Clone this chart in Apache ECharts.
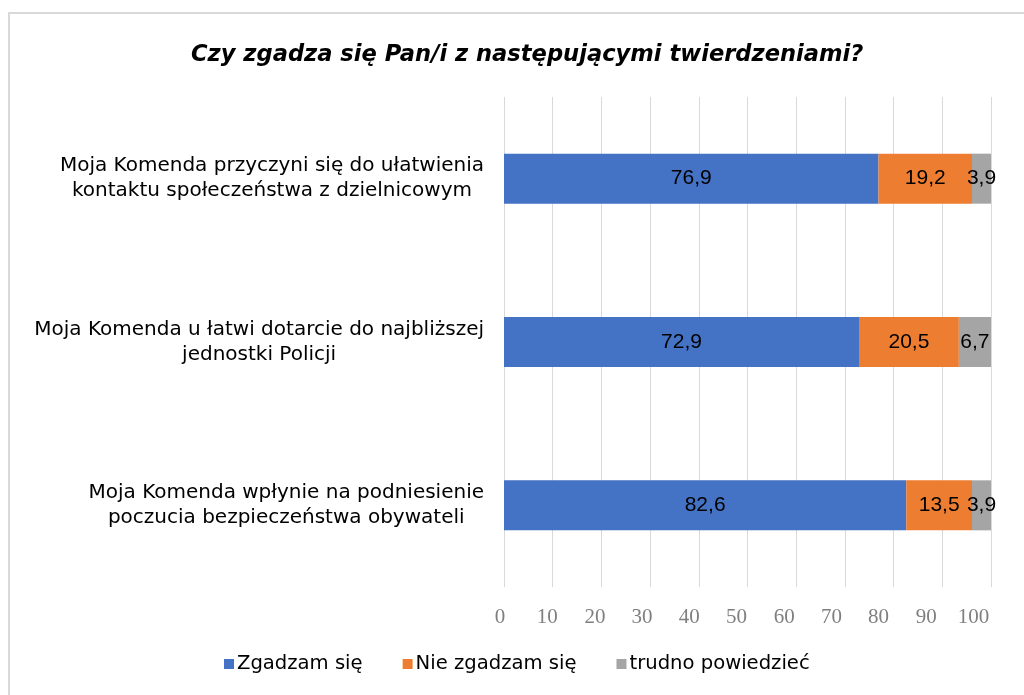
<!DOCTYPE html>
<html>
<head>
<meta charset="utf-8">
<script src="https://cdn.jsdelivr.net/npm/echarts@6/dist/echarts.min.js"></script>
<style>
  html, body { margin: 0; padding: 0; background: #fff; }
  #chart { width: 1024px; height: 695px; }
</style>
</head>
<body>
<div id="chart"></div>
<script>
var categories = [
  'Moja Komenda przyczyni się do ułatwienia\nkontaktu społeczeństwa z dzielnicowym',
  'Moja Komenda u łatwi dotarcie do najbliższej\njednostki Policji',
  'Moja Komenda wpłynie na podniesienie\npoczucia bezpieczeństwa obywateli'
];
var seriesNames = ['Zgadzam się', 'Nie zgadzam się', 'trudno powiedzieć'];
var agree = [76.9, 72.9, 82.6];
var disagree = [19.2, 20.5, 13.5];
var hardToSay = [3.9, 6.7, 3.9];
var colors = ['#4472C4', '#ED7D31', '#A5A5A5'];
var xTicks = [0, 10, 20, 30, 40, 50, 60, 70, 80, 90, 100];

var chart = echarts.init(document.getElementById('chart'));

// the tick labels in the original sit a little left of their gridlines
var tickRich = {};
xTicks.forEach(function (v) {
  var shift = 4 + 0.135 * v;
  tickRich['t' + v] = {
    fontFamily: 'Liberation Serif, Times New Roman, serif',
    fontSize: 21,
    color: '#7f7f7f',
    padding: [0, Math.round(shift * 2), 0, 0]
  };
});

function makeSeries(name, data, color) {
  return {
    name: name,
    type: 'bar',
    stack: 'total',
    data: data,
    barWidth: 50,
    itemStyle: { color: color },
    label: {
      show: true,
      position: 'inside',
      color: '#000',
      fontSize: 21,
      fontFamily: 'Liberation Sans, Arial, sans-serif',
      formatter: function (p) { return String(p.value).replace('.', ','); }
    }
  };
}

var option = {
  backgroundColor: '#fff',
  animation: false,
  graphic: [{
    type: 'rect',
    shape: { x: 9, y: 13, width: 1100, height: 800 },
    style: { fill: 'none', stroke: '#d9d9d9', lineWidth: 2 },
    silent: true
  }],
  title: {
    text: 'Czy zgadza się Pan/i z następującymi twierdzeniami?',
    left: 186,
    top: 39,
    textStyle: {
      fontFamily: 'DejaVu Sans, sans-serif',
      fontStyle: 'italic',
      fontWeight: 'bold',
      fontSize: 22.6,
      color: '#000'
    }
  },
  legend: {
    bottom: 16,
    left: 219,
    itemWidth: 10,
    itemHeight: 10,
    itemGap: 40,
    icon: 'rect',
    textStyle: {
      fontFamily: 'DejaVu Sans, sans-serif',
      fontSize: 19.6,
      color: '#000',
      padding: [0, 0, 0, -2]
    },
    data: seriesNames
  },
  grid: { left: 504, right: 33, top: 97, bottom: 108 },
  xAxis: {
    type: 'value',
    min: 0,
    max: 100,
    interval: 10,
    axisLine: { show: false },
    axisTick: { show: false },
    splitLine: { lineStyle: { color: '#d9d9d9', width: 1 } },
    axisLabel: {
      margin: 20,
      formatter: function (v) { return '{t' + v + '|' + v + '}'; },
      rich: tickRich
    }
  },
  yAxis: {
    type: 'category',
    inverse: true,
    data: categories,
    axisLine: { show: false },
    axisTick: { show: false },
    axisLabel: {
      margin: 20,
      formatter: function (v) {
        return v.split('\n').map(function (l) { return '{a|' + l + '}'; }).join('\n');
      },
      rich: {
        a: {
          align: 'center',
          fontFamily: 'DejaVu Sans, sans-serif',
          fontSize: 20,
          lineHeight: 25,
          color: '#000'
        }
      }
    }
  },
  series: [
    makeSeries(seriesNames[0], agree, colors[0]),
    makeSeries(seriesNames[1], disagree, colors[1]),
    makeSeries(seriesNames[2], hardToSay, colors[2])
  ]
};

chart.setOption(option);
</script>
</body>
</html>
